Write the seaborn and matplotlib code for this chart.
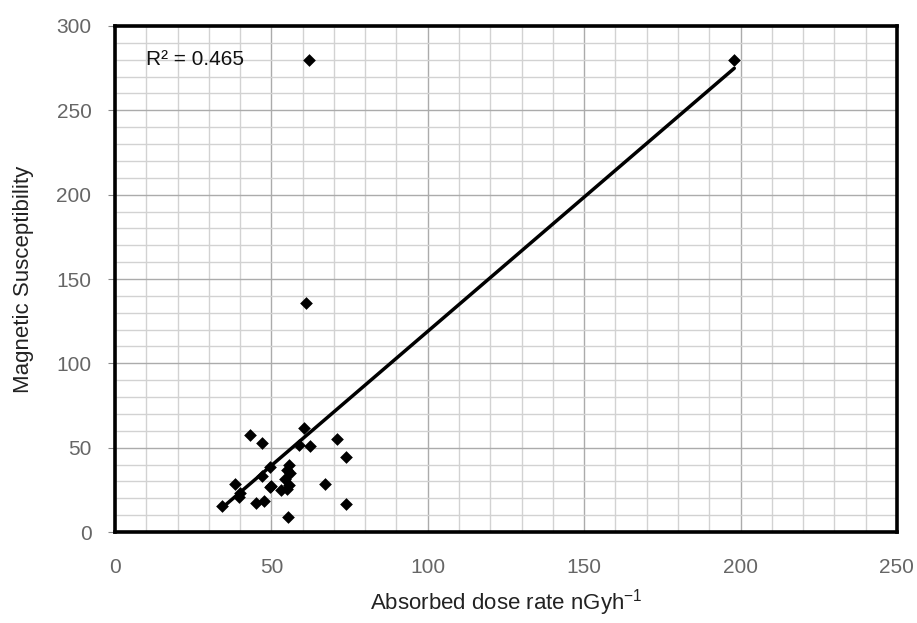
import numpy as np
import pandas as pd
import matplotlib
matplotlib.use("Agg")
import matplotlib.pyplot as plt
from matplotlib.ticker import MultipleLocator
import seaborn as sns

# Absorbed dose rate (nGy/h) and magnetic susceptibility per sample
dose_rate = [34.1, 38.5, 39.5, 40.0, 43.2, 45.0, 47.0, 47.5, 47.0, 49.5,
             49.5, 49.8, 53.0, 54.5, 55.0, 55.5, 56.0, 55.5, 55.0, 55.3,
             58.8, 60.3, 62.3, 62.0, 61.1, 67.3, 70.9, 74.0, 73.8, 198.0]
susceptibility = [15.5, 28.3, 21.0, 23.0, 57.8, 17.0, 52.5, 18.6, 33.5, 38.7,
                  26.8, 27.5, 24.8, 31.5, 36.8, 39.8, 34.8, 27.9, 25.5, 9.1,
                  51.6, 61.8, 50.8, 280.0, 136.0, 28.3, 55.1, 44.3, 16.4, 280.0]
r_squared_text = "R\u00b2 = 0.465"
x_ticks = [0, 50, 100, 150, 200, 250]
y_ticks = [0, 50, 100, 150, 200, 250, 300]

df = pd.DataFrame({"dose": dose_rate, "ms": susceptibility})

sns.set_theme(style="white")
plt.rcParams["font.family"] = ["Liberation Sans", "DejaVu Sans"]
plt.rcParams["mathtext.fontset"] = "custom"
plt.rcParams["mathtext.rm"] = "Liberation Sans"
plt.rcParams["mathtext.default"] = "regular"

fig = plt.figure(figsize=(9.17, 6.23), dpi=100)
ax = fig.add_axes([0.1254, 0.146, 0.8527, 0.8123])

sns.regplot(data=df, x="dose", y="ms", ax=ax, ci=None, truncate=True,
            marker="D", color="black",
            scatter_kws={"s": 42, "linewidths": 0, "alpha": 1, "zorder": 4},
            line_kws={"lw": 2.5, "color": "black", "zorder": 3})

ax.set_xlim(0, 250)
ax.set_ylim(0, 300)
ax.set_xticks(x_ticks)
ax.set_yticks(y_ticks)
ax.xaxis.set_minor_locator(MultipleLocator(10))
ax.yaxis.set_minor_locator(MultipleLocator(10))
ax.grid(which="minor", color="#d2d2d2", lw=1.0, zorder=0)
ax.grid(which="major", color="#ababab", lw=1.0, zorder=0)
ax.set_axisbelow(True)

for s in ax.spines.values():
    s.set_visible(True)
    s.set_color("black")
    s.set_linewidth(2.6)

ax.tick_params(axis="y", which="major", direction="out", length=5, width=0.8,
               color="#888888", labelsize=15, labelcolor="#666666", pad=12, left=True)
ax.tick_params(axis="x", which="major", direction="out", length=0,
               labelsize=15, labelcolor="#666666", pad=19, bottom=True)
ax.tick_params(which="minor", length=0)

ax.set_xlabel("Absorbed dose rate nGyh$^{-1}$", fontsize=16, color="#222222")
ax.xaxis.set_label_coords(0.5, -0.108)
ax.set_ylabel("Magnetic Susceptibility", fontsize=16, color="#222222",
              labelpad=16)

ax.text(10, 280, r_squared_text, fontsize=15, color="#111111",
        va="center", ha="left")

fig.savefig("out.png", dpi=100)
